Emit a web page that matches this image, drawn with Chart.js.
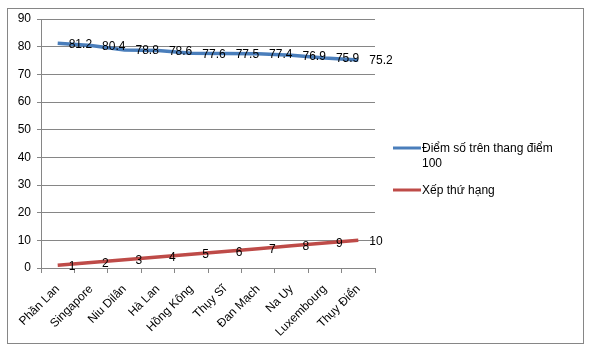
<!DOCTYPE html>
<html>
<head>
<meta charset="utf-8">
<script src="https://cdn.jsdelivr.net/npm/chart.js@4"></script>
<style>
  html, body { margin: 0; padding: 0; background: #fff; }
  #wrap { width: 590px; height: 352px; }
</style>
</head>
<body>
<div id="wrap"><canvas id="chart" width="590" height="352"></canvas></div>
<script>
const countries = ['Phần Lan', 'Singapore', 'Niu Dilân', 'Hà Lan', 'Hồng Kông', 'Thụy Sĩ', 'Đan Mạch', 'Na Uy', 'Luxembourg', 'Thụy Điển'];
const scores = [81.2, 80.4, 78.8, 78.6, 77.6, 77.5, 77.4, 76.9, 75.9, 75.2];
const ranks = [1, 2, 3, 4, 5, 6, 7, 8, 9, 10];
const seriesNames = ['Điểm số trên thang điểm 100', 'Xếp thứ hạng'];
const seriesColors = ['#4a7ebb', '#be4b48'];

const FONT = '12px "Liberation Sans", Arial, sans-serif';

// value labels to the right of each point, frame and legend on the right
const extras = {
    id: 'extras',
    afterDraw(chart) {
        const ctx = chart.ctx;
        ctx.save();
        ctx.font = FONT;
        ctx.fillStyle = '#000';
        ctx.textBaseline = 'middle';
        ctx.textAlign = 'left';
        chart.data.datasets.forEach((ds, i) => {
            chart.getDatasetMeta(i).data.forEach((pt, j) => {
                ctx.fillText(String(ds.data[j]), pt.x + 11, pt.y + 1);
            });
        });

        // legend
        let y = 148;
        chart.data.datasets.forEach((ds, i) => {
            ctx.strokeStyle = ds.borderColor;
            ctx.lineWidth = 3;
            ctx.beginPath();
            ctx.moveTo(393, y);
            ctx.lineTo(421, y);
            ctx.stroke();
            const words = ds.label.split(' ');
            let line = '';
            let lines = [];
            words.forEach(w => {
                const t = line ? line + ' ' + w : w;
                if (ctx.measureText(t).width > 150 && line) {
                    lines.push(line);
                    line = w;
                } else {
                    line = t;
                }
            });
            lines.push(line);
            lines.forEach((l, k) => ctx.fillText(l, 422, y + 1 + k * 15));
            y += 42;
        });

        // outer frame
        ctx.strokeStyle = '#868686';
        ctx.lineWidth = 1;
        ctx.strokeRect(7.5, 8.5, 576, 335);
        ctx.restore();
    }
};

new Chart(document.getElementById('chart'), {
    type: 'line',
    data: {
        labels: countries,
        datasets: [
            { label: seriesNames[0], data: scores, borderColor: seriesColors[0], borderWidth: 3.5, pointRadius: 0, tension: 0 },
            { label: seriesNames[1], data: ranks, borderColor: seriesColors[1], borderWidth: 3.5, pointRadius: 0, tension: 0 }
        ]
    },
    options: {
        responsive: false,
        animation: false,
        events: [],
        layout: { padding: { top: 19, right: 215, left: 0, bottom: 0 } },
        plugins: { legend: { display: false }, tooltip: { enabled: false } },
        scales: {
            x: {
                offset: true,
                grid: { offset: true, drawOnChartArea: false, color: '#868686', tickLength: 5 },
                border: { color: '#868686' },
                ticks: { font: { family: '"Liberation Sans", Arial, sans-serif', size: 12 }, color: '#000', minRotation: 45, maxRotation: 45, autoSkip: false, padding: 9 },
                afterFit(scale) { scale.height = 84; }
            },
            y: {
                min: 0, max: 90,
                ticks: { stepSize: 10, font: { family: '"Liberation Sans", Arial, sans-serif', size: 12 }, color: '#000', padding: 6 },
                grid: { color: '#868686', tickLength: 4 },
                border: { color: '#868686' },
                afterFit(scale) { scale.width = 41; }
            }
        }
    },
    plugins: [extras]
});
</script>
</body>
</html>
